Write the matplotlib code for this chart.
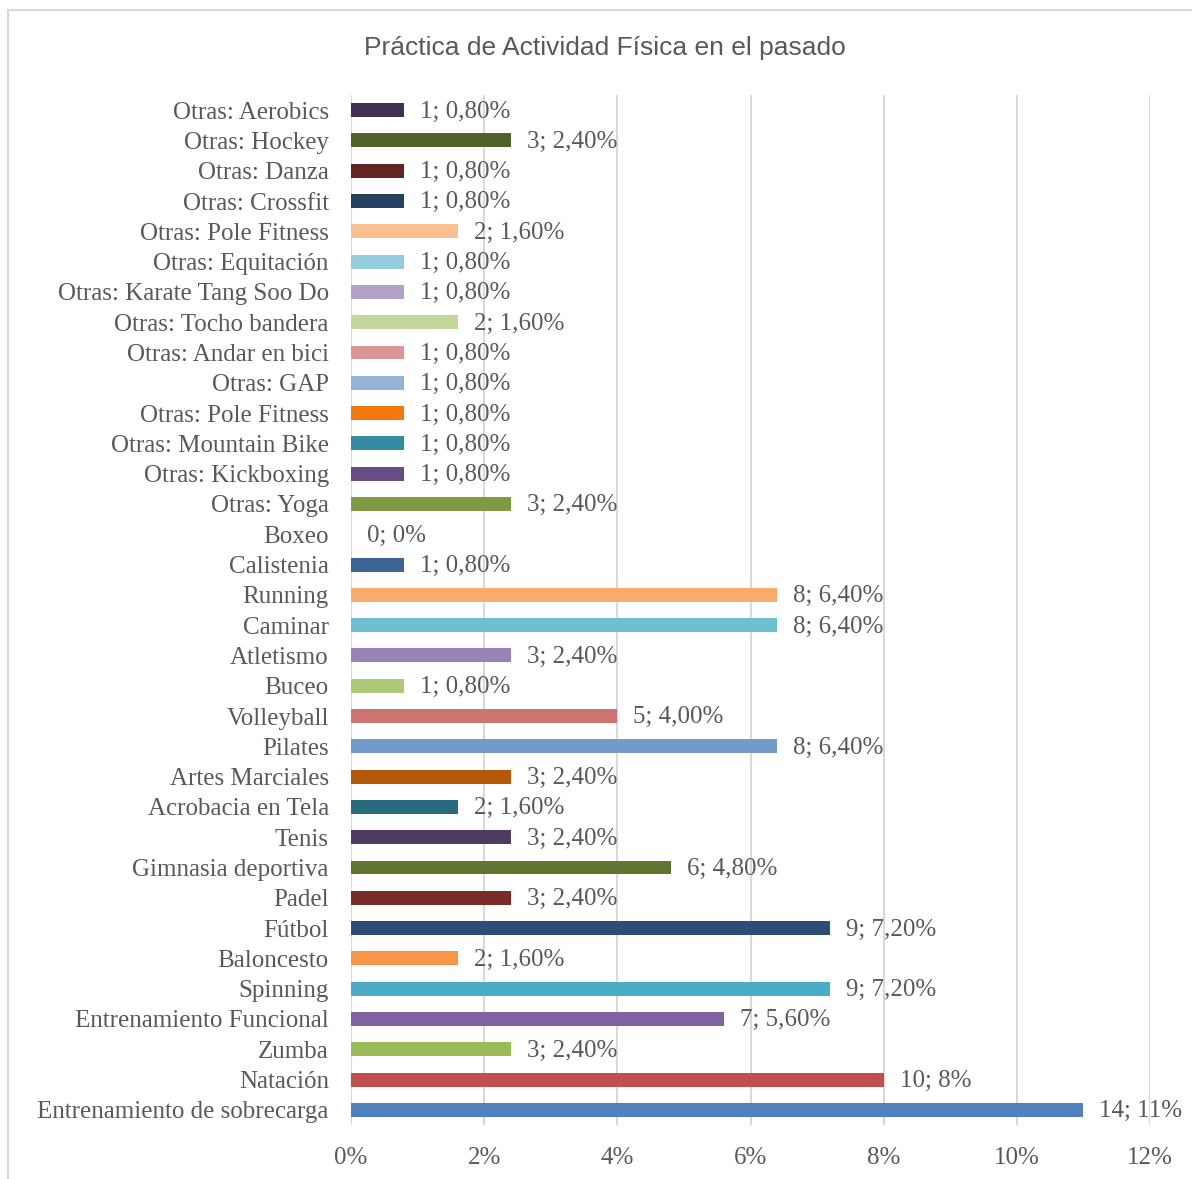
import matplotlib
matplotlib.use("Agg")
import matplotlib.pyplot as plt
from matplotlib.patches import Rectangle

# Datos (de abajo hacia arriba)
categorias = [
    "Entrenamiento de sobrecarga", "Natación", "Zumba", "Entrenamiento Funcional",
    "Spinning", "Baloncesto", "Fútbol", "Padel", "Gimnasia deportiva", "Tenis",
    "Acrobacia en Tela", "Artes Marciales", "Pilates", "Volleyball", "Buceo",
    "Atletismo", "Caminar", "Running", "Calistenia", "Boxeo", "Otras: Yoga",
    "Otras: Kickboxing", "Otras: Mountain Bike", "Otras: Pole Fitness", "Otras: GAP",
    "Otras: Andar en bici", "Otras: Tocho bandera", "Otras: Karate Tang Soo Do",
    "Otras: Equitación", "Otras: Pole Fitness", "Otras: Crossfit", "Otras: Danza",
    "Otras: Hockey", "Otras: Aerobics",
]
conteos = [14, 10, 3, 7, 9, 2, 9, 3, 6, 3, 2, 3, 8, 5, 1, 3, 8, 8, 1, 0, 3,
           1, 1, 1, 1, 1, 2, 1, 1, 2, 1, 1, 3, 1]
porcentajes = [11, 8, 2.4, 5.6, 7.2, 1.6, 7.2, 2.4, 4.8, 2.4, 1.6, 2.4, 6.4, 4.0, 0.8,
               2.4, 6.4, 6.4, 0.8, 0, 2.4, 0.8, 0.8, 0.8, 0.8, 0.8, 1.6, 0.8, 0.8,
               1.6, 0.8, 0.8, 2.4, 0.8]
etiquetas = ["14; 11%", "10; 8%", "3; 2,40%", "7; 5,60%", "9; 7,20%", "2; 1,60%",
             "9; 7,20%", "3; 2,40%", "6; 4,80%", "3; 2,40%", "2; 1,60%", "3; 2,40%",
             "8; 6,40%", "5; 4,00%", "1; 0,80%", "3; 2,40%", "8; 6,40%", "8; 6,40%",
             "1; 0,80%", "0; 0%", "3; 2,40%", "1; 0,80%", "1; 0,80%", "1; 0,80%",
             "1; 0,80%", "1; 0,80%", "2; 1,60%", "1; 0,80%", "1; 0,80%", "2; 1,60%",
             "1; 0,80%", "1; 0,80%", "3; 2,40%", "1; 0,80%"]
colores = ["#4F81BD", "#C0504D", "#9BBB59", "#8064A2", "#4BACC6", "#F79646",
           "#2C4D75", "#772C2A", "#5F7530", "#4D3B62", "#276A7C", "#B65708",
           "#729ACA", "#CD7371", "#AFC97A", "#9983B5", "#6FBDD1", "#F9AB6B",
           "#3A6595", "#8C3836", "#7E9A43", "#664E82", "#358BA2", "#F3760F",
           "#95B3D7", "#D99694", "#C3D69B", "#B3A2C7", "#93CDDD", "#FAC090",
           "#254061", "#632523", "#4F6228", "#3F3151"]
ticks_x = [0, 2, 4, 6, 8, 10, 12]

gris = "#595959"
fuente = ["Liberation Serif", "DejaVu Serif"]
tam = 18

fig = plt.figure(figsize=(11.92, 11.79), dpi=100)
ax = fig.add_axes([351 / 1192, 1 - 1125 / 1179, (1150 - 351) / 1192, 1030 / 1179])

# borde del gráfico
fig.patches.append(Rectangle((8 / 1192, -0.1), 1.2, 1 - 10 / 1179 + 0.1,
                             transform=fig.transFigure, fill=False,
                             edgecolor="#D9D9D9", linewidth=1.5))

pos = list(range(len(categorias)))
ax.barh(pos, porcentajes, height=0.46, color=colores, zorder=3)

for y, v, txt in zip(pos, porcentajes, etiquetas):
    ax.annotate(txt, (v, y), xytext=(11.5, -1), textcoords="offset points",
                ha="left", va="center", fontsize=tam, color=gris, family=fuente)

ax.set_xlim(0, 12)
ax.set_ylim(-0.5, len(categorias) - 0.5)
ax.set_xticks(ticks_x)
ax.set_xticklabels([f"{t}%" for t in ticks_x], fontsize=tam, color=gris, family=fuente)
ax.set_yticks(pos)
ax.set_yticklabels(categorias, fontsize=tam, color=gris, family=fuente)
ax.tick_params(length=0)
ax.tick_params(axis="y", pad=16)
ax.tick_params(axis="x", pad=16)
ax.grid(axis="x", color="#D9D9D9", linewidth=1.5, zorder=0)
for s in ax.spines.values():
    s.set_visible(False)

fig.text(605 / 1192, 1 - 48 / 1179, "Práctica de Actividad Física en el pasado",
         ha="center", va="center", fontsize=19, color=gris, family="Liberation Sans")

fig.savefig("out.png", dpi=100)
